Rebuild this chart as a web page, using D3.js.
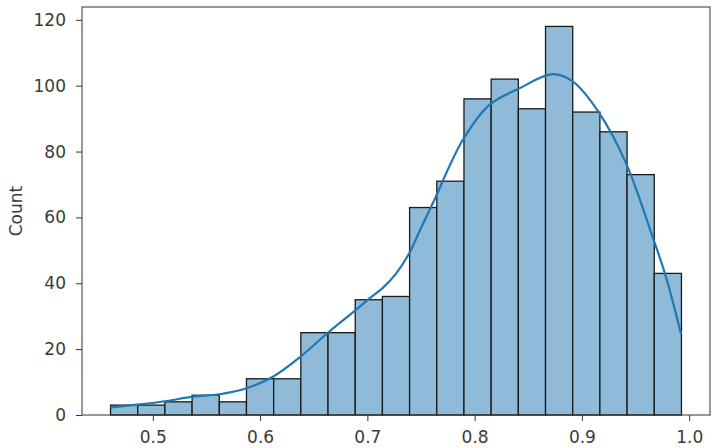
<!DOCTYPE html>
<html>
<head>
<meta charset="utf-8">
<script src="https://cdn.jsdelivr.net/npm/d3@7"></script>
<style>
  body { margin: 0; background: #fff; }
  text { font-family: "DejaVu Sans", sans-serif; }
</style>
</head>
<body>
<div id="chart"></div>
<script>
// histogram bins (21 equal bins between data min and max)
var binStart = 0.4606;
var binEnd = 0.9928;
var counts = [3, 3, 4, 6, 4, 11, 11, 25, 25, 35, 36, 63, 71, 96, 102, 93, 118, 92, 86, 73, 43];

// kde line (already scaled to counts)
var kdeX = [0.4615, 0.4879, 0.5128, 0.5375, 0.5624, 0.5872, 0.6120, 0.6369, 0.6640, 0.6897, 0.7020,
            0.7144, 0.7269, 0.7393, 0.7486, 0.7610, 0.7889, 0.8138, 0.8417, 0.8727, 0.8914, 0.9162,
            0.9411, 0.9658, 0.9783, 0.9923];
var kdeY = [2.3, 3.2, 4.25, 5.6, 6.3, 8.1, 11.6, 17.5, 25.2, 32.0, 35.4,
            38.6, 43.0, 49.3, 55.8, 64.3, 83.5, 94.2, 99.2, 103.5, 101.3, 91.7,
            76.5, 54.2, 42, 24.8];

var xTicks = [0.5, 0.6, 0.7, 0.8, 0.9, 1.0];
var yTicks = [0, 20, 40, 60, 80, 100, 120];

var width = 715, height = 448;
var margin = {left: 82, right: 5, top: 7, bottom: 33};

var svg = d3.select("#chart").append("svg")
    .attr("width", width)
    .attr("height", height);

var binW = (binEnd - binStart) / counts.length;
var pad = (binEnd - binStart) * 0.05;

var x = d3.scaleLinear()
    .domain([binStart - pad, binEnd + pad])
    .range([margin.left, width - margin.right]);

var y = d3.scaleLinear()
    .domain([0, d3.max(counts) * 1.05])
    .range([height - margin.bottom, margin.top]);

// bars
svg.append("g")
    .selectAll("rect")
    .data(counts)
    .join("rect")
    .attr("x", function(d, i){ return x(binStart + i * binW); })
    .attr("y", function(d){ return y(d); })
    .attr("width", function(d, i){ return x(binStart + (i + 1) * binW) - x(binStart + i * binW); })
    .attr("height", function(d){ return y(0) - y(d); })
    .attr("fill", "#8fbbd9")
    .attr("stroke", "#1a1a1a")
    .attr("stroke-width", 1.3);

// kde
var line = d3.line()
    .x(function(d){ return x(d[0]); })
    .y(function(d){ return y(d[1]); })
    .curve(d3.curveCatmullRom);

svg.append("path")
    .datum(d3.zip(kdeX, kdeY))
    .attr("d", line)
    .attr("fill", "none")
    .attr("stroke", "#1f77b4")
    .attr("stroke-width", 2.2)
    .attr("stroke-linecap", "round");

// axes
var xAxis = svg.append("g")
    .attr("transform", "translate(0," + (height - margin.bottom) + ")")
    .call(d3.axisBottom(x).tickValues(xTicks).tickFormat(d3.format(".1f")).tickSize(6).tickPadding(10));

var yAxis = svg.append("g")
    .attr("transform", "translate(" + margin.left + ",0)")
    .call(d3.axisLeft(y).tickValues(yTicks).tickSize(6).tickPadding(10));

[xAxis, yAxis].forEach(function(a){
    a.select(".domain").remove();
    a.selectAll("line").attr("stroke", "#333").attr("stroke-width", 1);
    a.selectAll("text").attr("fill", "#3a3a3a").style("font-size", "17px");
});

// frame
svg.append("rect")
    .attr("x", margin.left)
    .attr("y", margin.top)
    .attr("width", width - margin.right - margin.left)
    .attr("height", height - margin.bottom - margin.top)
    .attr("fill", "none")
    .attr("stroke", "#333")
    .attr("stroke-width", 1);

svg.append("text")
    .attr("transform", "translate(17," + ((margin.top + height - margin.bottom) / 2) + ") rotate(-90)")
    .attr("text-anchor", "middle")
    .attr("dominant-baseline", "middle")
    .attr("fill", "#3a3a3a")
    .style("font-size", "17px")
    .text("Count");
</script>
</body>
</html>
